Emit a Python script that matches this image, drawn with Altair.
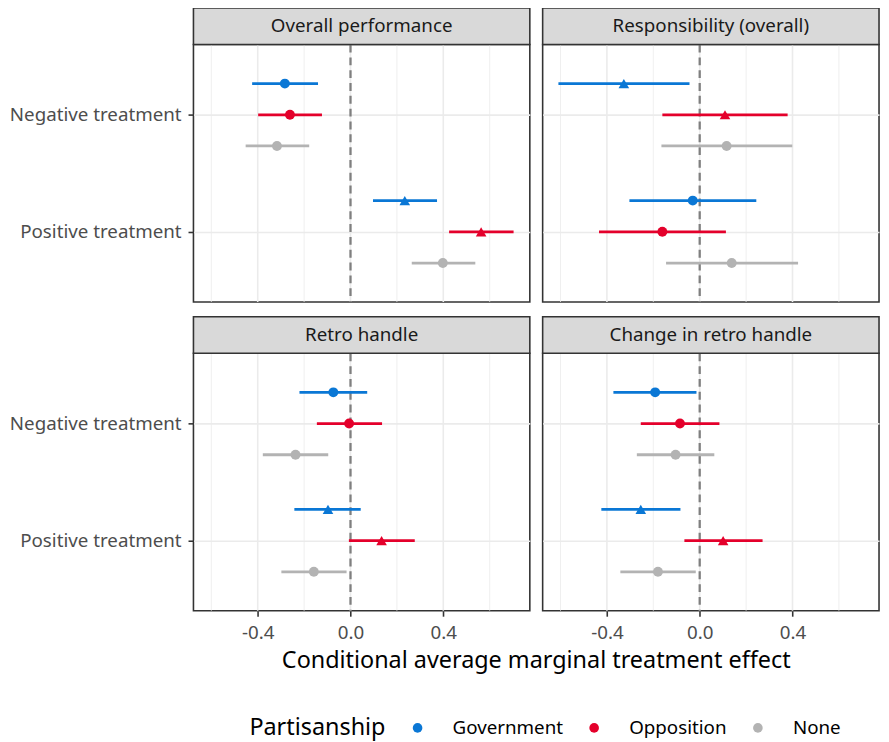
import altair as alt
import pandas as pd

panels = ["Overall performance", "Responsibility (overall)", "Retro handle", "Change in retro handle"]
treatments = ["Negative treatment", "Positive treatment"]
parties = ["Government", "Opposition", "None"]
party_colors = ["#0A77D5", "#E4002B", "#B3B3B3"]

# order within each panel: Neg-Gov, Neg-Opp, Neg-None, Pos-Gov, Pos-Opp, Pos-None
est_overall = [-0.283, -0.261, -0.317, 0.234, 0.563, 0.398]
lo_overall = [-0.424, -0.398, -0.452, 0.097, 0.425, 0.264]
hi_overall = [-0.140, -0.123, -0.178, 0.373, 0.703, 0.538]
sig_overall = ["no", "no", "no", "yes", "yes", "no"]

est_resp = [-0.327, 0.109, 0.116, -0.030, -0.161, 0.138]
lo_resp = [-0.609, -0.161, -0.165, -0.303, -0.434, -0.145]
hi_resp = [-0.044, 0.379, 0.399, 0.244, 0.113, 0.424]
sig_resp = ["yes", "yes", "no", "no", "no", "no"]

est_retro = [-0.074, -0.006, -0.237, -0.097, 0.134, -0.158]
lo_retro = [-0.220, -0.145, -0.378, -0.242, -0.007, -0.298]
hi_retro = [0.072, 0.136, -0.096, 0.044, 0.277, -0.017]
sig_retro = ["no", "no", "no", "yes", "yes", "no"]

est_change = [-0.192, -0.085, -0.104, -0.254, 0.101, -0.180]
lo_change = [-0.372, -0.254, -0.271, -0.424, -0.066, -0.342]
hi_change = [-0.014, 0.085, 0.063, -0.083, 0.271, -0.017]
sig_change = ["no", "no", "no", "yes", "yes", "no"]

major_breaks = [-0.4, 0.0, 0.4]
minor_breaks = [-0.6, -0.2, 0.2, 0.6]
zero_line = [0.0]
x_domain = [-0.677, 0.773]
y_domain = [0.4, 2.6]
dodge = {"Government": -0.2667, "Opposition": 0.0, "None": 0.2667}
x_title = "Conditional average marginal treatment effect"

series = {
    panels[0]: (est_overall, lo_overall, hi_overall, sig_overall),
    panels[1]: (est_resp, lo_resp, hi_resp, sig_resp),
    panels[2]: (est_retro, lo_retro, hi_retro, sig_retro),
    panels[3]: (est_change, lo_change, hi_change, sig_change),
}

rows = []
for pname in panels:
    e, l, h, s = series[pname]
    k = 0
    for ti, t in enumerate(treatments):
        for p in parties:
            rows.append(dict(panel=pname, treatment=t, party=p, est=e[k], lo=l[k], hi=h[k],
                             sig=s[k], ypos=ti + 1 + dodge[p]))
            k += 1
df = pd.DataFrame(rows)

W, H = 341, 261
STRIP = 37
FONT = "Noto Sans"
FS = 19

xs = alt.Scale(domain=x_domain, nice=False, zero=False)
ys = alt.Scale(domain=y_domain, reverse=True, nice=False, zero=False)

label_expr = " : ".join(
    [f"datum.value == {i + 1} ? '{t}'" for i, t in enumerate(treatments[:-1])] + [f"'{treatments[-1]}'"]
)

legend = alt.Legend(
    orient="none", legendX=56.7, legendY=683, direction="horizontal",
    title="Partisanship", titleOrient="left", titleFontSize=23.7, titleFontWeight="normal",
    titleColor="black", titleFont=FONT, titleBaseline="middle", titlePadding=22,
    labelFontSize=FS, labelColor="black", labelFont=FONT, labelOffset=26,
    columnPadding=22, symbolType="circle", symbolSize=95, symbolStrokeWidth=0,
)
color_enc = alt.Color("party:N", scale=alt.Scale(domain=parties, range=party_colors), legend=legend)


def make_panel(i, pname):
    r, c = divmod(i, 2)
    if r == 1:
        xaxis = alt.Axis(values=major_breaks, grid=False, domain=False, ticks=True, tickSize=5.5,
                         tickWidth=1.6, tickColor="#333333", labelFontSize=FS, labelColor="#4D4D4D",
                         labelFont=FONT, labelPadding=7.5,
                         labelExpr="replace(format(datum.value, '.1f'), '\u2212', '-')", title=None)
    else:
        xaxis = None
    yaxis = alt.Axis(values=[1, 2], grid=True, gridColor="#EBEBEB", gridWidth=1.6, domain=False,
                     labels=(c == 0), ticks=(c == 0), tickSize=5.5, tickWidth=1.6, tickColor="#333333",
                     labelFontSize=FS, labelColor="#4D4D4D", labelFont=FONT, labelPadding=7,
                     labelExpr=label_expr, title=None)

    def X(f):
        return alt.X(f, scale=xs, axis=xaxis, title=None)

    Y = alt.Y("ypos:Q", scale=ys, axis=yaxis, title=None)

    d = df[df.panel == pname]
    minor = alt.Chart(pd.DataFrame({"v": minor_breaks})).mark_rule(
        color="#EBEBEB", strokeWidth=0.8).encode(x=X("v:Q"))
    major = alt.Chart(pd.DataFrame({"v": major_breaks})).mark_rule(
        color="#EBEBEB", strokeWidth=1.6).encode(x=X("v:Q"))
    zero = alt.Chart(pd.DataFrame({"v": zero_line})).mark_rule(
        color="#7F7F7F", strokeWidth=2.3, strokeDash=[8, 5]).encode(x=X("v:Q"))
    bars = alt.Chart(d).mark_rule(strokeWidth=2.8).encode(
        x=X("lo:Q"), x2=alt.X2("hi:Q"), y=Y, color=color_enc)
    pts = alt.Chart(d).mark_point(filled=True, opacity=1).encode(
        x=X("est:Q"), y=Y, color=color_enc,
        shape=alt.Shape("sig:N", scale=alt.Scale(domain=["no", "yes"], range=["circle", "triangle-up"]),
                        legend=None),
        size=alt.Size("sig:N", scale=alt.Scale(domain=["no", "yes"], range=[100, 115]), legend=None))
    sdf = pd.DataFrame({"panel": [pname]})
    strip_rect = alt.Chart(sdf).mark_rect(fill="#D9D9D9", stroke="#333333", strokeWidth=1.6).encode(
        x=alt.value(0), x2=alt.value(W), y=alt.value(-STRIP), y2=alt.value(0))
    strip_text = alt.Chart(sdf).mark_text(fontSize=FS, color="#1A1A1A", font=FONT,
                                          baseline="middle", align="center").encode(
        text="panel:N", x=alt.value(W / 2), y=alt.value(-STRIP / 2))
    layers = [minor, major, zero, bars, pts, strip_rect, strip_text]
    if r == 1 and c == 0:
        tdf = pd.DataFrame({"t": [x_title]})
        title_txt = alt.Chart(tdf).mark_text(fontSize=23.7, color="black", font=FONT,
                                             baseline="alphabetic", align="center").encode(
            text="t:N", x=alt.value(W + 13 / 2), y=alt.value(H + 58.5))
        layers.append(title_txt)
    return alt.layer(*layers).properties(width=W, height=H)


charts = [make_panel(i, p) for i, p in enumerate(panels)]

chart = alt.concat(*charts, columns=2, spacing={"row": 52, "column": 13}, bounds="flush").properties(
    padding={"left": 0, "top": -7, "right": 0, "bottom": 0}
).configure(font=FONT).configure_view(stroke="#333333", strokeWidth=1.6)

chart.save("out.html", embed_options={"renderer": "svg", "actions": False})
